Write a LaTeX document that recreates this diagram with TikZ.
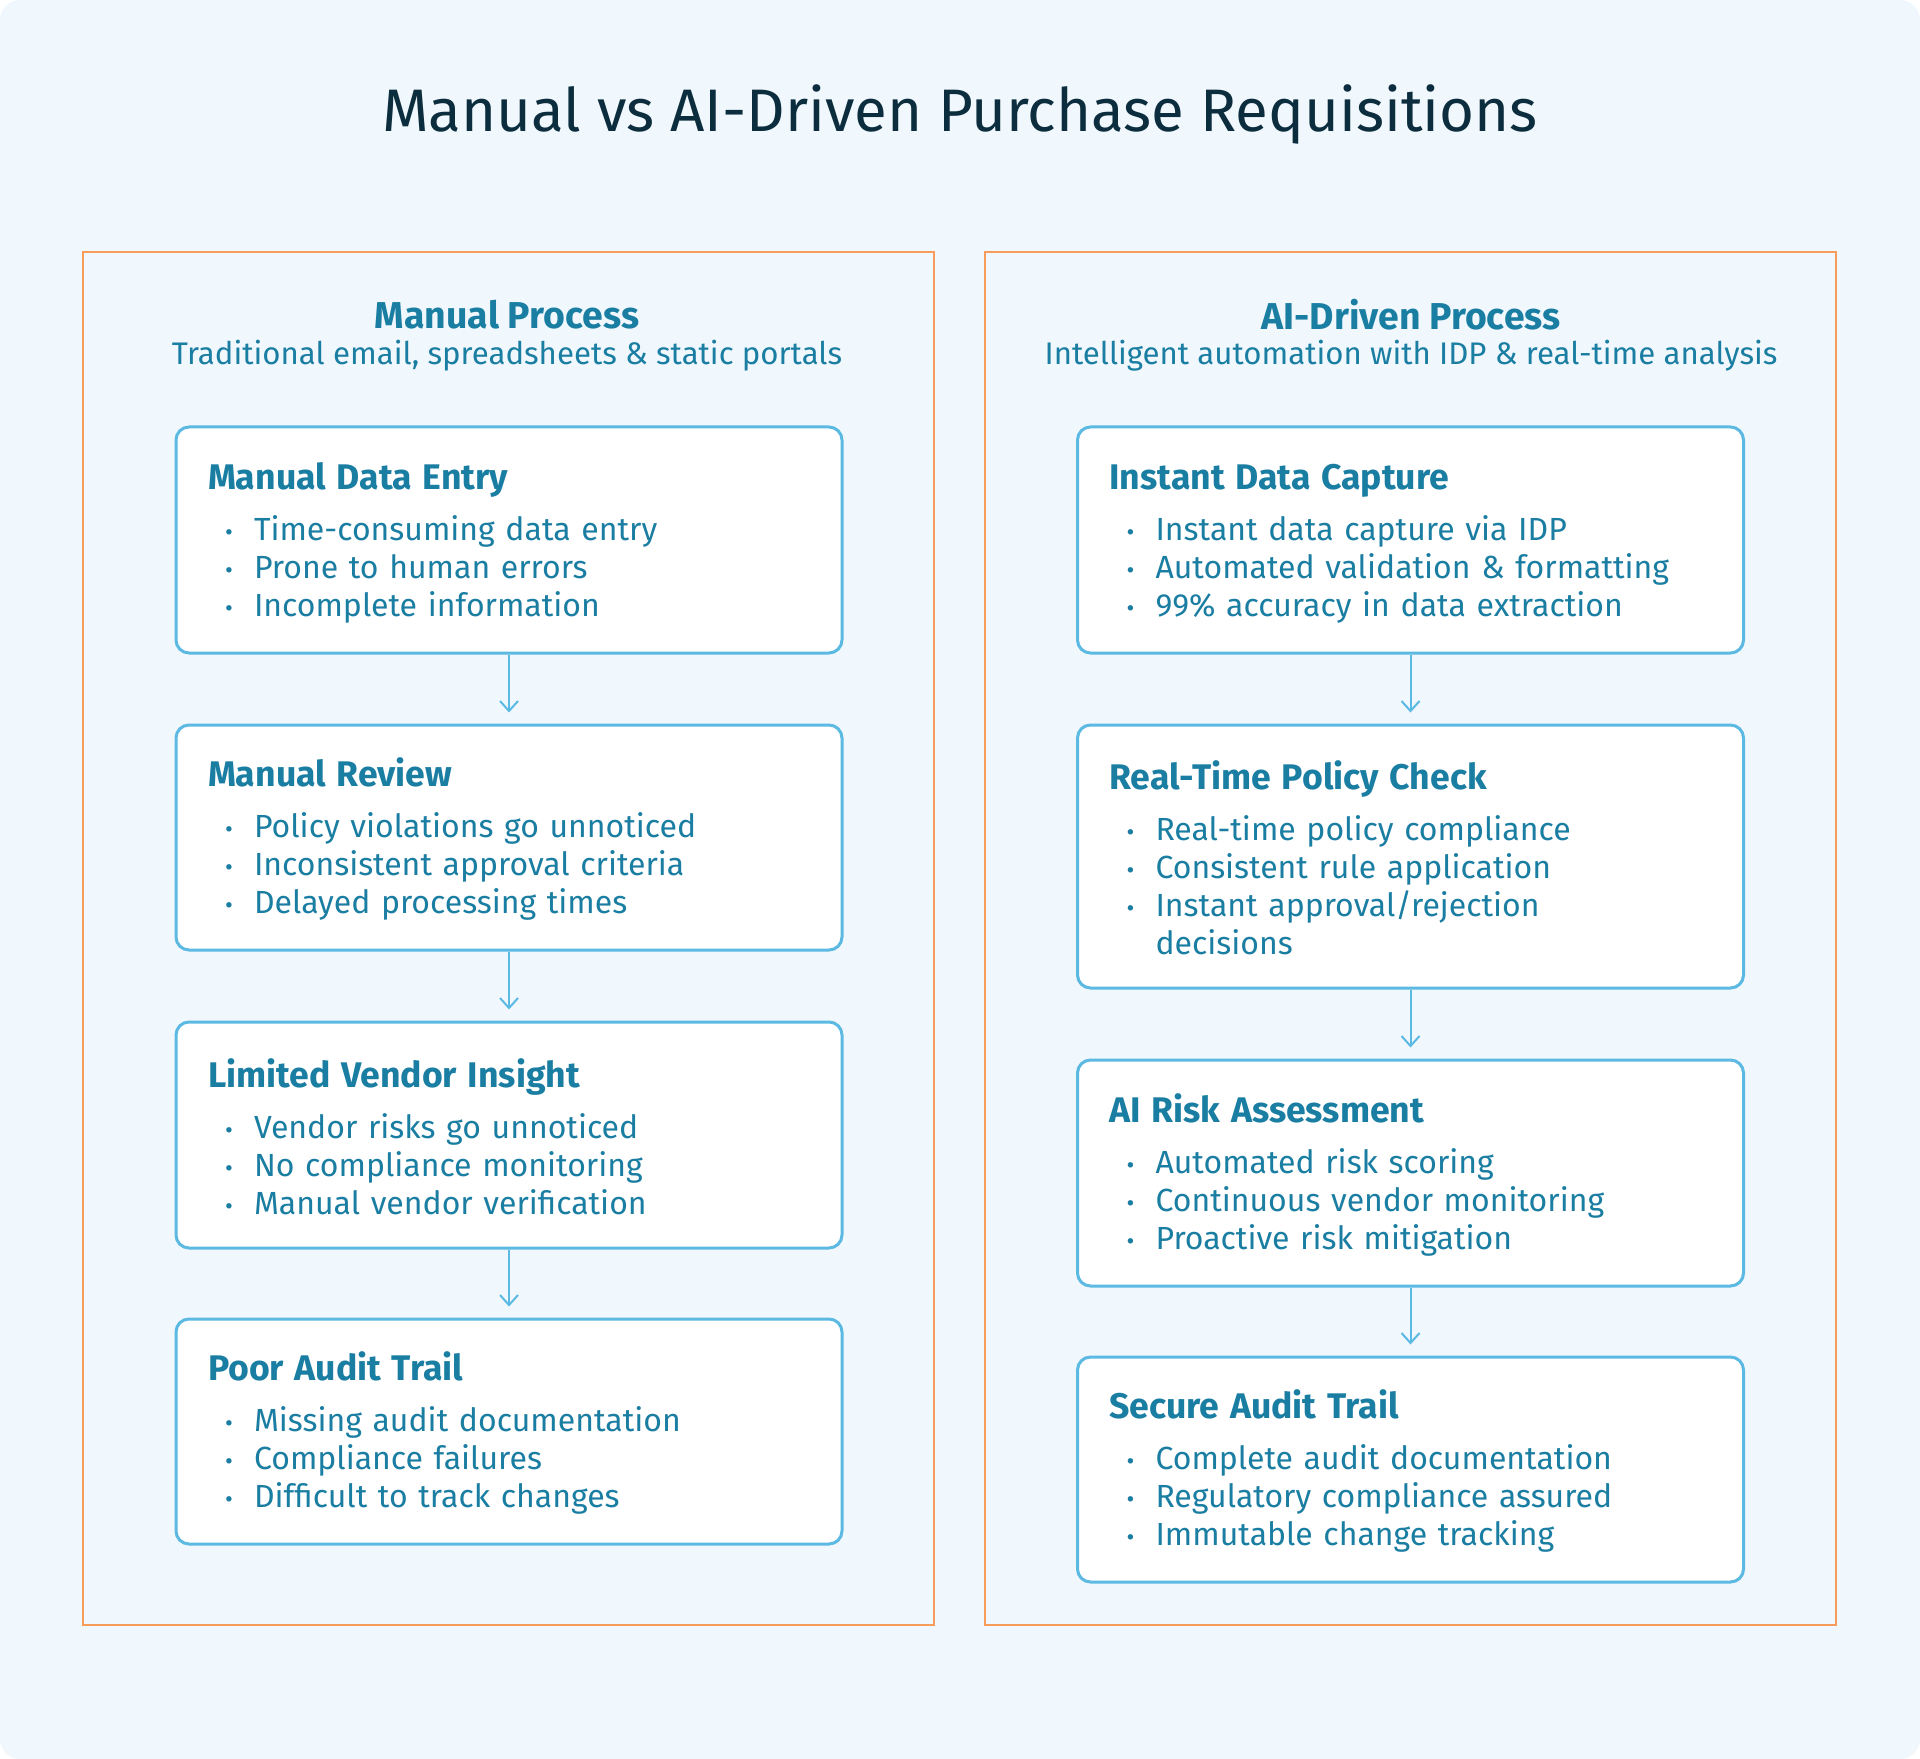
\documentclass[tikz,border=0pt]{standalone}
\usepackage{fontspec}
\setmainfont{Fira Sans}
\usepackage{xcolor}
\usepackage{tikz}
\usetikzlibrary{arrows.meta}
\usetikzlibrary{positioning}
\definecolor{pagebg}{HTML}{F0F8FE}
\definecolor{boxline}{HTML}{5BB9E2}
\definecolor{inktext}{HTML}{1A7DA2}
\definecolor{inktitle}{HTML}{0C2D3D}
\definecolor{panelline}{HTML}{F89C5C}
\newcommand{\bul}[1]{\hspace*{8.5pt}\makebox[14.5pt][l]{\large •}#1}
\newcommand{\boxtitle}[1]{{\fontsize{17.8}{19}\selectfont\bfseries\rule{0pt}{16pt}#1}\\[6.5pt]}

\begin{document}
\begin{tikzpicture}[x=0.5pt,y=-0.5pt,
  dep/.style={
    -{Straight Barb[length=5pt,width=9pt]},line width=1pt,draw=boxline,
    shorten >=5.5pt
  },
  stepbox/.style={
    rectangle,
    draw=boxline,
    line width=1.5pt,
    fill=white,
    rounded corners=6.5pt,
    text width=301pt,
    inner xsep=16pt,
    align=left,
    text=inktext,
    font=\fontsize{16}{19}\selectfont},
  panel/.style={
    rectangle,
    draw=panelline,
    line width=1pt,
    minimum width=425.5pt,
    minimum height=686.5pt},
  head/.style={
    text=inktext,
    font=\fontsize{18.7}{21}\selectfont\bfseries},
  subhead/.style={
    text=inktext,
    font=\fontsize{15.6}{18}\selectfont},
]

  \def\colL{509}%
  \def\colR{1410.5}%

  % Page
  \useasboundingbox (0,0) rectangle (1920,1759);
  \fill[white] (0,0) rectangle (1920,1759);
  \fill[pagebg,rounded corners=10pt] (0,0) rectangle (1920,1759);

  \node[text=inktitle,font=\fontsize{30}{34}\selectfont] (title) at (960,114)
    {Manual vs AI-Driven Purchase Requisitions};

  % Panels
  \node[panel] (manual) at (508.5,938.5) {};
  \node[panel] (aidriven) at (1410.5,938.5) {};

  \node[head] (mhead) at (507,315) {Manual Process};
  \node[subhead] (msub) at (507,356) {Traditional email, spreadsheets \& static portals};
  \node[head] (ahead) at (1411,315) {AI-Driven Process};
  \node[subhead] (asub) at (1411,356) {Intelligent automation with IDP \& real-time analysis};

  % Manual steps
  \node[stepbox,minimum height=113pt] (m1) at (\colL,540) {%
    \boxtitle{Manual Data Entry}
    \bul{Time-consuming data entry}\\
    \bul{Prone to human errors}\\
    \bul{Incomplete information}};
  \node[stepbox,minimum height=112.5pt] (m2) at (\colL,837.5) {%
    \boxtitle{Manual Review}
    \bul{Policy violations go unnoticed}\\
    \bul{Inconsistent approval criteria}\\
    \bul{Delayed processing times}};
  \node[stepbox,minimum height=113pt] (m3) at (\colL,1135) {%
    \boxtitle{Limited Vendor Insight}
    \bul{Vendor risks go unnoticed}\\
    \bul{No compliance monitoring}\\
    \bul{Manual vendor verification}};
  \node[stepbox,minimum height=112.5pt] (m4) at (\colL,1431.5) {%
    \boxtitle{Poor Audit Trail}
    \bul{Missing audit documentation}\\
    \bul{Compliance failures}\\
    \bul{Difficult to track changes}};

  % AI-driven steps
  \node[stepbox,minimum height=113pt] (a1) at (\colR,540) {%
    \boxtitle{Instant Data Capture}
    \bul{Instant data capture via IDP}\\
    \bul{Automated validation \& formatting}\\
    \bul{99\% accuracy in data extraction}};
  \node[stepbox,minimum height=131.5pt] (a2) at (\colR,856.5) {%
    \boxtitle{Real-Time Policy Check}
    \bul{Real-time policy compliance}\\
    \bul{Consistent rule application}\\
    \bul{Instant approval/rejection}\\
    \hspace*{23pt}decisions};
  \node[stepbox,minimum height=113pt] (a3) at (\colR,1173) {%
    \boxtitle{AI Risk Assessment}
    \bul{Automated risk scoring}\\
    \bul{Continuous vendor monitoring}\\
    \bul{Proactive risk mitigation}};
  \node[stepbox,minimum height=112.5pt] (a4) at (\colR,1469.5) {%
    \boxtitle{Secure Audit Trail}
    \bul{Complete audit documentation}\\
    \bul{Regulatory compliance assured}\\
    \bul{Immutable change tracking}};

  \foreach \a/\b in {m1/m2,m2/m3,m3/m4,a1/a2,a2/a3,a3/a4} {
    \draw[dep] (\a.south) -- (\b.north);
  }

\end{tikzpicture}
\end{document}
